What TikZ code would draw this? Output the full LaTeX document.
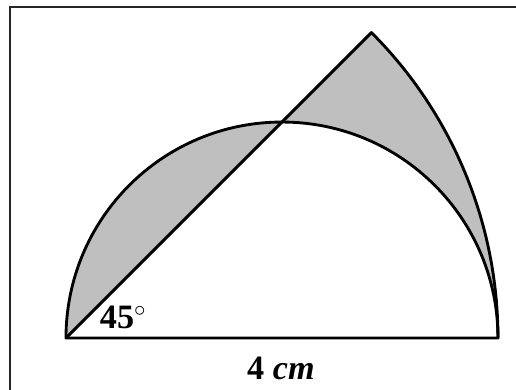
\documentclass[tikz,border=0pt]{standalone}
\usepackage{fontspec}
\setmainfont{Liberation Serif}
\usepackage{tikz}
\usetikzlibrary{calc}

\begin{document}
\begin{tikzpicture}[
  x=2cm, y=2cm,
  font=\fontsize{18}{20}\selectfont\bfseries,
  outline/.style={
    draw=black,
    line width=1.5pt,
    line join=round
  },
  shaded/.style={
    fill=gray!50,
    draw=none
  },
  frameline/.style={
    draw=black!85,
    line width=0.8pt
  }
]

% Bounding box and frame
\useasboundingbox (-0.611,-0.481) rectangle (4.167,3.130);
\draw[frameline] (-0.519,-0.7) rectangle (4.4,3.065);

% Key points
\coordinate (A) at (0,0);
\coordinate (O) at (2,0);
\coordinate (B) at (4,0);
\coordinate (T) at (2,2);
\coordinate (P) at (45:4);

% Shaded regions
\fill[shaded] (A) arc[start angle=180, end angle=90, radius=2] -- cycle;
\fill[shaded] (T) -- (P) arc[start angle=45, end angle=0, radius=4]
  arc[start angle=0, end angle=90, radius=2] -- cycle;

% Outlines
\draw[outline] (A) arc[start angle=180, end angle=0, radius=2] -- cycle;
\draw[outline] (A) -- (P) arc[start angle=45, end angle=0, radius=4];

% Labels
\node (angle) at (0.53,0.19) {45$^{\circ}$};
\node (base) at (1.99,-0.28) {4 \textit{cm}};

\end{tikzpicture}
\end{document}
